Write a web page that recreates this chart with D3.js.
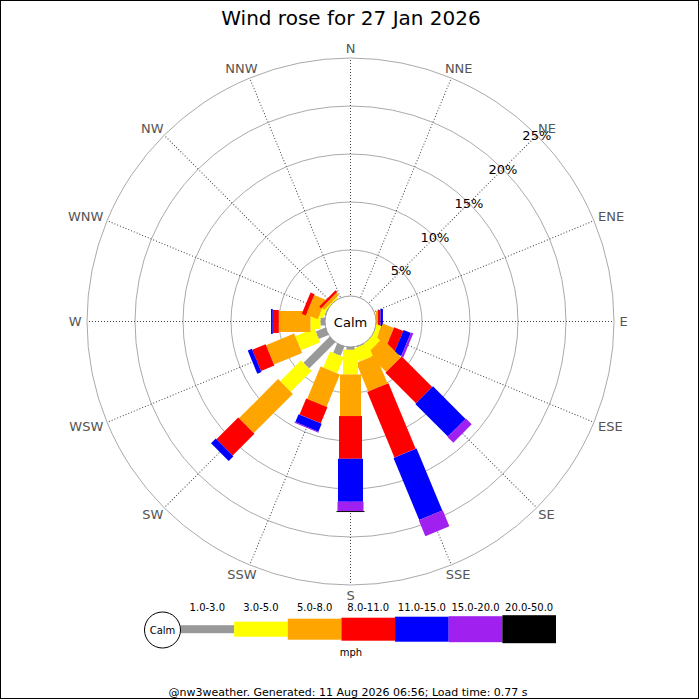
<!DOCTYPE html>
<html>
<head>
<meta charset="utf-8">
<script src="https://cdn.jsdelivr.net/npm/d3@7"></script>
<style>
  html, body { margin: 0; padding: 0; background: #fff; }
  text { font-family: "DejaVu Sans", sans-serif; }
</style>
</head>
<body>
<script>
// ---------------- DATA ----------------
const directions = ["N","NNE","NE","ENE","E","ESE","SE","SSE","S","SSW","SW","WSW","W","WNW","NW","NNW"];
const speedBands = ["1.0-3.0","3.0-5.0","5.0-8.0","8.0-11.0","11.0-15.0","15.0-20.0","20.0-50.0"];
// percentage of time per direction, one array per speed band (order = directions)
const band1to3   = [0,0,0,0,0.10,0.15,0.20,0.30,0.50,1.25,4.06,1.29,0.68,0.30,0.15,0];
const band3to5   = [0,0,0,0,0.10,0.60,0.95,1.47,2.57,1.82,3.07,2.17,1.04,0.50,0.20,0];
const band5to8   = [0,0,0,0,0.20,1.23,2.75,3.23,4.33,3.66,5.77,3.17,3.30,1.30,0.35,0];
const band8to11  = [0,0,0,0,0.27,1.03,4.50,7.40,4.45,1.81,3.20,1.50,0.63,0.45,0.25,0];
const band11to15 = [0,0,0,0,0.26,0.81,4.80,7.00,4.48,0.89,0.70,0.47,0.18,0,0,0];
const band15to20 = [0,0,0,0,0,0.25,0.85,1.80,0.97,0.10,0,0,0,0,0,0];
const band20to50 = [0,0,0,0,0,0,0,0,0.10,0,0,0,0,0,0,0];
const rangeTicks = [5,10,15,20,25];
const rangeTickLabels = ["5%","10%","15%","20%","25%"];
const titleText = "Wind rose for 27 Jan 2026";
const calmLabel = "Calm";
const unitLabel = "mph";
const footerText = "@nw3weather. Generated: 11 Aug 2026 06:56; Load time: 0.77 s";

const bandValues = [band1to3, band3to5, band5to8, band8to11, band11to15, band15to20, band20to50];

// ---------------- STYLE / LAYOUT ----------------
const W = 700, H = 700;
const cx = 350.5, cy = 321.5;
const bandColors = ["#999999","#ffff00","#ffa500","#ff0000","#0000ff","#a020f0","#000000"];
const bandWidths = [8, 15, 21, 23, 25, 26, 28];

const svg = d3.select("body").append("svg").attr("width", W).attr("height", H);
svg.append("rect").attr("x",0).attr("y",0).attr("width",W).attr("height",H).attr("fill","#fff");

const rScale = d3.scaleLinear().domain([0, 25]).range([23.5, 263.5]);
const angleScale = d3.scaleLinear().domain([0, directions.length]).range([0, 360]);
const colorScale = d3.scaleOrdinal().domain(speedBands).range(bandColors);
const widthScale = d3.scaleOrdinal().domain(speedBands).range(bandWidths);

// title
svg.append("text").attr("x", 351).attr("y", 25).attr("text-anchor","middle")
  .attr("font-size", 20).attr("fill","#000").text(titleText);

const g = svg.append("g").attr("transform", `translate(${cx},${cy})`);

// grid circles
g.selectAll("circle.grid").data(rangeTicks).enter().append("circle")
  .attr("class","grid").attr("r", d => rScale(d))
  .attr("fill","none").attr("stroke","#aaaaaa").attr("stroke-width",1);

// direction lines
g.selectAll("line.dir").data(directions).enter().append("line")
  .attr("class","dir")
  .attr("x1",0).attr("y1",-rScale(0)).attr("x2",0).attr("y2",-rScale(25))
  .attr("transform",(d,i)=>`rotate(${angleScale(i)})`)
  .attr("stroke","#444").attr("stroke-width",1).attr("stroke-dasharray","1,2");

// bars
directions.forEach((dir, i) => {
  const leg = g.append("g").attr("transform", `rotate(${angleScale(i)})`);
  let cum = 0;
  const segs = [];
  speedBands.forEach((b, k) => {
    const v = bandValues[k][i];
    if (v > 0) segs.push({band: b, start: cum, end: cum + v});
    cum += v;
  });
  leg.selectAll("rect").data(segs).enter().append("rect")
    .attr("x", d => -widthScale(d.band)/2)
    .attr("width", d => widthScale(d.band))
    .attr("y", d => -rScale(d.end))
    .attr("height", d => rScale(d.end) - rScale(d.start))
    .attr("fill", d => colorScale(d.band));
});

// calm circle
g.append("circle").attr("r", 25.5).attr("fill","#fff").attr("stroke","#999").attr("stroke-width",1);
g.append("text").attr("x",0).attr("y",1).attr("text-anchor","middle").attr("dominant-baseline","central")
  .attr("font-size",13).attr("fill","#000").text(calmLabel);

// range labels along NE
g.selectAll("text.range").data(rangeTicks).enter().append("text")
  .attr("class","range")
  .attr("x", d => rScale(d)*Math.sin(Math.PI/4))
  .attr("y", d => -rScale(d)*Math.cos(Math.PI/4))
  .attr("text-anchor","middle").attr("dominant-baseline","central")
  .attr("font-size",13).attr("fill","#000")
  .text((d,i) => rangeTickLabels[i]);

// compass labels
const labelR = 268;
g.selectAll("text.compass").data(directions).enter().append("text")
  .attr("class","compass")
  .attr("font-size",13).attr("fill","#555")
  .attr("text-anchor","middle").attr("dominant-baseline","central")
  .text(d => d)
  .each(function(d, i) {
    const a = angleScale(i) * Math.PI / 180;
    const s = Math.sin(a), c = Math.cos(a);
    const w = this.getComputedTextLength();
    const h = 10;
    const px = labelR * s, py = -labelR * c;
    d3.select(this).attr("x", px + (w/2 + 1) * s).attr("y", py - (h/2 + 0.5) * c);
  });

// legend
const legX = d3.scaleBand().domain(speedBands).range([180.5, 556]);
const legCy = 629.2;
const leg = svg.append("g");
leg.selectAll("rect").data(speedBands).enter().append("rect")
  .attr("x", d => legX(d)).attr("width", legX.bandwidth())
  .attr("y", d => legCy - widthScale(d)/2).attr("height", d => widthScale(d))
  .attr("fill", d => colorScale(d));
leg.selectAll("text.lab").data(speedBands).enter().append("text")
  .attr("class","lab")
  .attr("x", d => legX(d) + legX.bandwidth()/2).attr("y", 610.5)
  .attr("text-anchor","middle").attr("font-size",10).attr("fill","#000").text(d => d);
leg.append("circle").attr("cx",162.5).attr("cy",630).attr("r",18)
  .attr("fill","#fff").attr("stroke","#000").attr("stroke-width",1);
leg.append("text").attr("x",162.5).attr("y",630.5).attr("text-anchor","middle").attr("dominant-baseline","central")
  .attr("font-size",10).attr("fill","#000").text(calmLabel);
leg.append("text").attr("x",351).attr("y",655.5).attr("text-anchor","middle")
  .attr("font-size",10).attr("fill","#000").text(unitLabel);

// footer
svg.append("text").attr("x",348).attr("y",695.5).attr("text-anchor","middle")
  .attr("font-size",11).attr("fill","#000").text(footerText);

// frame
svg.append("rect").attr("x",0.5).attr("y",0.5).attr("width",698).attr("height",698)
  .attr("fill","none").attr("stroke","#000").attr("stroke-width",1);
</script>
</body>
</html>
